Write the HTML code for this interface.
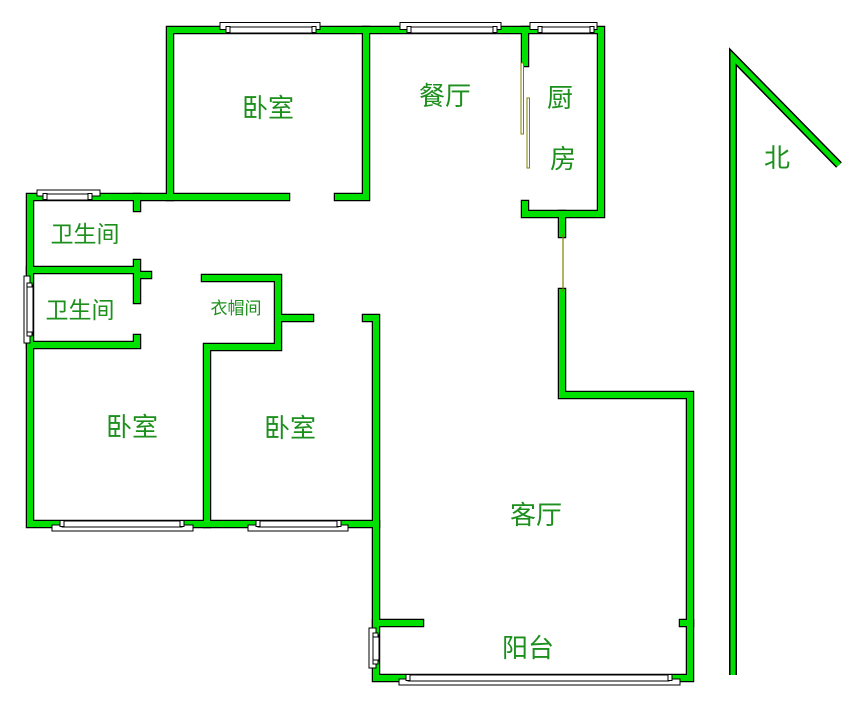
<!DOCTYPE html>
<html><head><meta charset="utf-8"><style>
html,body{margin:0;padding:0;background:#fff;}
svg{display:block}
text{font-family:"Liberation Sans","Noto Sans CJK SC",sans-serif;fill:#1c8f1c;}
</style></head><body>
<svg width="857" height="710" viewBox="0 0 857 710" xmlns="http://www.w3.org/2000/svg">
<defs>
<g id="walls">
<path d="M170,197 V30 H601 V214 H525 V204"/>
<path d="M525,30 V63"/>
<path d="M366,30 V197 H338"/>
<path d="M286,197 H30 V524 H376"/>
<path d="M137,197 V208"/>
<path d="M30,270 H137 M137,263 V300 M137,275 H148"/>
<path d="M30,345 H137 V338"/>
<path d="M205,278 H278 V347 H207 V524 M278,318 H310"/>
<path d="M366,318 H376 V678 H690 V395 H562 V292"/>
<path d="M562,214 V234"/>
<path d="M376,623 H420 M683,623 H690"/>
</g>
</defs>
<g fill="none" stroke="#000" stroke-width="8.5" stroke-linecap="square" stroke-linejoin="miter"><use href="#walls"/></g>
<g fill="none" stroke="#00e000" stroke-width="6" stroke-linecap="square" stroke-linejoin="miter"><use href="#walls"/></g>
<line x1="563" y1="234" x2="563" y2="292" stroke="#808000" stroke-width="1.2"/>
<rect x="521" y="63" width="2.5" height="71" fill="#fff" stroke="#808000" stroke-width="1"/>
<rect x="527" y="98" width="2.5" height="70" fill="#fff" stroke="#808000" stroke-width="1"/>
<path d="M733,675 V57 L839,165" fill="none" stroke="#000" stroke-width="8"/>
<path d="M733,675 V57 L839,165" fill="none" stroke="#00e000" stroke-width="5"/>
<g fill="#fff" stroke="#000" stroke-width="1">
<rect x="220" y="22.5" width="100" height="7"/><rect x="228" y="27" width="85" height="6"/><rect x="226" y="26.5" width="4" height="6"/><rect x="312" y="26.5" width="4" height="6"/>
<rect x="400" y="22.5" width="101" height="7"/><rect x="409" y="27" width="85" height="6"/><rect x="407" y="26.5" width="4" height="6"/><rect x="493" y="26.5" width="4" height="6"/>
<rect x="530" y="22.5" width="67" height="7"/><rect x="540" y="27" width="52" height="6"/><rect x="538" y="26.5" width="4" height="6"/><rect x="590" y="26.5" width="4" height="6"/>
<rect x="37" y="190" width="63" height="6"/><rect x="45" y="194" width="45" height="6"/><rect x="43" y="193.5" width="4" height="6"/><rect x="88" y="193.5" width="4" height="6"/>
<rect x="24" y="276" width="6" height="67"/><rect x="27" y="285" width="6" height="50"/><rect x="27" y="283" width="5" height="4"/><rect x="27" y="332" width="5" height="4"/>
<rect x="52" y="525" width="141" height="6"/><rect x="62" y="521" width="120" height="6"/><rect x="60" y="520.5" width="4" height="6"/><rect x="180" y="520.5" width="4" height="6"/>
<rect x="248" y="525" width="100" height="6"/><rect x="258" y="521" width="80" height="6"/><rect x="256" y="520.5" width="4" height="6"/><rect x="337" y="520.5" width="4" height="6"/>
<rect x="369" y="628" width="7" height="40"/><rect x="373" y="635" width="6" height="26"/><rect x="373" y="633" width="5" height="4"/><rect x="373" y="660" width="5" height="4"/>
<rect x="399" y="679" width="281" height="6"/><rect x="408" y="675" width="261" height="6"/><rect x="406" y="674.5" width="4" height="6"/><rect x="668" y="674.5" width="4" height="6"/>
</g>
<g font-size="26" text-anchor="middle">
<text x="268" y="117">卧室</text>
<text x="445" y="105">餐厅</text>
<text x="560" y="107">厨</text>
<text x="563" y="168">房</text>
<text x="132" y="436">卧室</text>
<text x="290" y="437">卧室</text>
<text x="536" y="524">客厅</text>
<text x="528" y="657">阳台</text>
<text x="777" y="167">北</text>
</g>
<g font-size="23" text-anchor="middle">
<text x="85" y="242">卫生间</text>
<text x="80" y="318">卫生间</text>
</g>
<text x="236" y="314" font-size="17" text-anchor="middle">衣帽间</text>
</svg>
</body></html>
